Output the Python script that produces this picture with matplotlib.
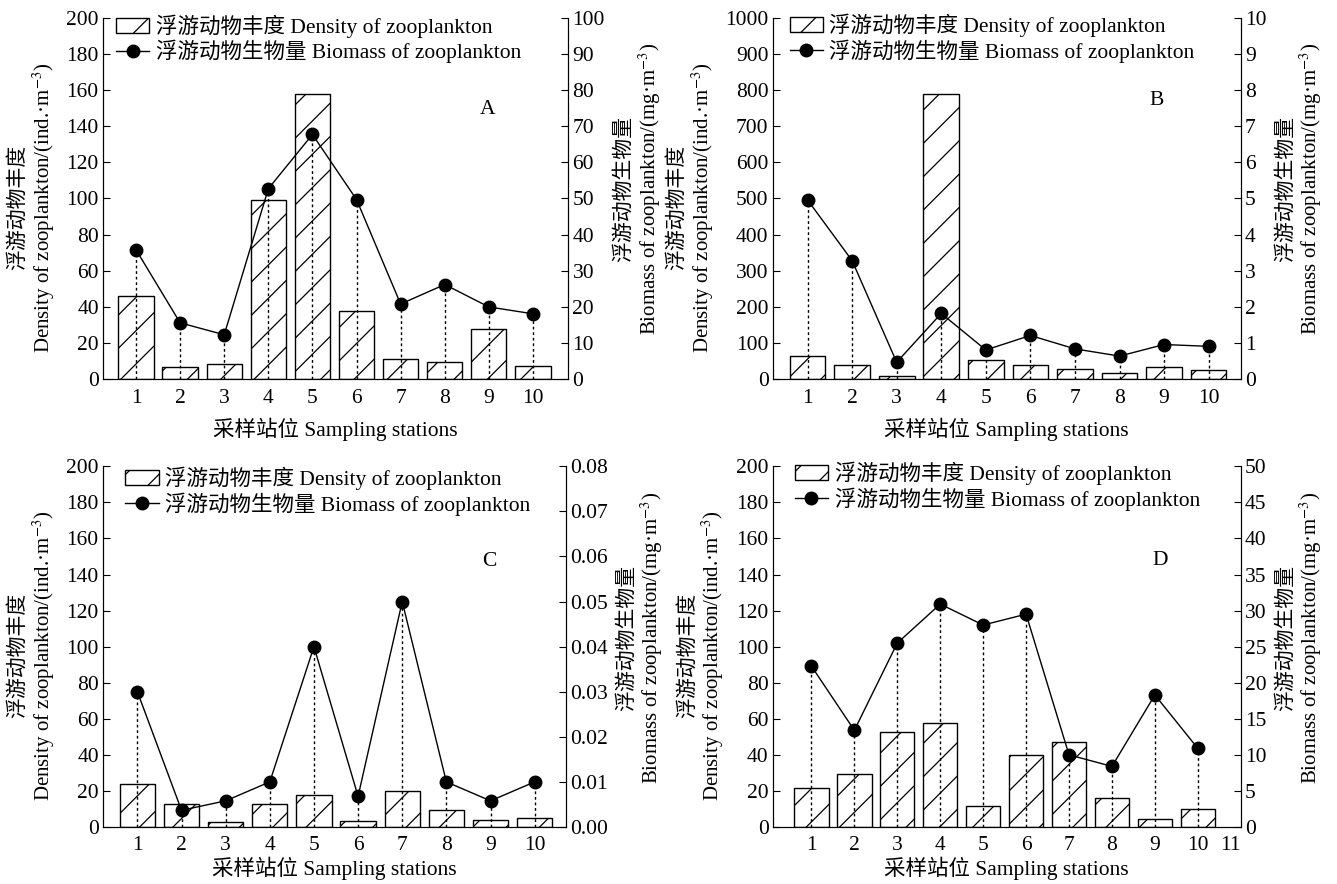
import matplotlib
matplotlib.use("Agg")
from matplotlib import pyplot as plt
import numpy as np

plt.rcParams['font.family'] = ['Liberation Serif', 'Noto Sans CJK SC']
plt.rcParams['mathtext.fontset'] = 'stix'
plt.rcParams['hatch.linewidth'] = 0.9

stations = [1, 2, 3, 4, 5, 6, 7, 8, 9, 10]

density_a = [46, 7, 8.5, 99, 158, 38, 11, 9.5, 28, 7.5]
biomass_a = [35.8, 15.6, 12.3, 52.7, 67.7, 49.7, 20.8, 26.2, 20.0, 18.1]

density_b = [64, 39, 8, 788, 53, 39, 27, 16, 35, 26]
biomass_b = [4.96, 3.28, 0.47, 1.82, 0.81, 1.21, 0.84, 0.64, 0.96, 0.91]

density_c = [24, 12.8, 2.6, 12.6, 17.6, 3.4, 19.8, 9.5, 3.7, 4.8]
biomass_c = [0.030, 0.0037, 0.0058, 0.0100, 0.0400, 0.0068, 0.0500, 0.0100, 0.0058, 0.0100]

density_d = [21.7, 29.3, 52.9, 57.6, 11.9, 40, 46.9, 15.9, 4.7, 10]
biomass_d = [22.3, 13.4, 25.5, 30.9, 28.0, 29.5, 10.0, 8.4, 18.3, 10.9]

lab_bar = '浮游动物丰度 Density of zooplankton'
lab_line = '浮游动物生物量 Biomass of zooplankton'
xlab = '采样站位 Sampling stations'
ylab_left = '浮游动物丰度\nDensity of zooplankton/(ind.·m$^{-3}$)'
ylab_right = '浮游动物生物量\nBiomass of zooplankton/(mg·m$^{-3}$)'

FS = 15.5
FSL = 15

fig = plt.figure(figsize=(13.37, 8.84), dpi=100)


def panel(rect, dens, bio, dmax, dstep, bmax, bstep, bfmt, letter, xlim, xticks,
          letpos, legpos, tickpad, xpad):
    ax = fig.add_axes(rect)
    ax.bar(stations, dens, width=0.8, color='white', edgecolor='black',
           linewidth=1.0, hatch='/', label=lab_bar)
    ax.set_xlim(*xlim)
    ax.set_ylim(0, dmax)
    ax.set_yticks(np.arange(0, dmax + dstep / 2, dstep))
    ax.set_xticks(xticks)
    ax.tick_params(axis='y', direction='in', length=5, labelsize=FS, pad=3)
    ax.tick_params(axis='x', length=0, labelsize=FS, pad=tickpad)
    ax.spines['top'].set_visible(False)
    ax.set_xlabel(xlab, fontsize=FS, labelpad=xpad)
    ax.set_ylabel(ylab_left, fontsize=FSL, labelpad=7, linespacing=1.1)
    ax.yaxis.label.set_y(0.475)

    ax2 = ax.twinx()
    ax2.vlines(stations, 0, bio, colors='black', linestyles=(0, (2, 2)), linewidth=1.0)
    ln, = ax2.plot(stations, bio, color='black', linewidth=1.0, marker='o',
                   markersize=9, label=lab_line)
    ax2.set_ylim(0, bmax)
    ax2.set_yticks(np.arange(0, bmax + bstep / 2, bstep))
    ax2.set_yticklabels([bfmt.format(v) for v in np.arange(0, bmax + bstep / 2, bstep)])
    ax2.tick_params(axis='y', direction='in', length=5, labelsize=FS, pad=3)
    ax2.spines['top'].set_visible(False)
    ax2.set_ylabel(ylab_right, fontsize=FSL, labelpad=7, linespacing=1.1)
    ax2.yaxis.label.set_y(0.525)

    h1, l1 = ax.get_legend_handles_labels()
    ax2.legend(h1 + [ln], l1 + [lab_line], loc='upper left', bbox_to_anchor=legpos,
               frameon=False, fontsize=FS, handlelength=1.55, handletextpad=0.3,
               labelspacing=0.08, borderpad=0, borderaxespad=0)
    ax2.text(letpos[0], letpos[1], letter, transform=ax2.transAxes, fontsize=FS,
             ha='center', va='center')
    return ax, ax2


panel([0.077, 0.571, 0.348, 0.409], density_a, biomass_a, 200, 20, 100, 10, '{:.0f}',
      'A', (0.25, 10.8), stations, (0.826, 0.745), (0.028, 1.008), 7, 7)
panel([0.578, 0.571, 0.350, 0.409], density_b, biomass_b, 1000, 100, 10, 1, '{:.0f}',
      'B', (0.22, 10.72), stations, (0.82, 0.77), (0.036, 1.01), 7, 7)
panel([0.077, 0.0645, 0.346, 0.408], density_c, biomass_c, 200, 20, 0.08, 0.01, '{:.2f}',
      'C', (0.22, 10.7), stations, (0.836, 0.736), (0.048, 0.998), 6.5, 1)
ax_d, ax_d2 = panel([0.578, 0.0645, 0.350, 0.408], density_d, biomass_d, 200, 20, 50, 5,
                    '{:.0f}', 'D', (0.1, 11.0), list(range(1, 12)), (0.827, 0.74),
                    (0.047, 1.012), 6.5, 1)
# keep the last x tick label clear of the right-axis zero
ax_d.get_xticklabels()[-1].set_horizontalalignment('right')
ax_d.get_xticklabels()[-1].set_x(10.99)

fig.savefig('out.png', dpi=100)
